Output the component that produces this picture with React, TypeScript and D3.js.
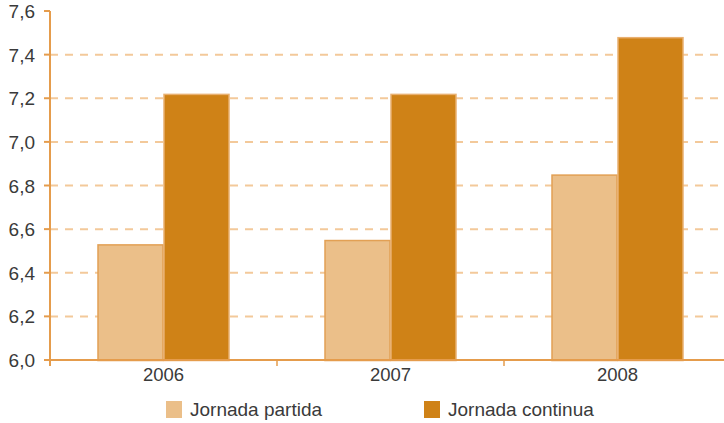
import React, { useEffect, useRef } from 'react';
import * as d3 from 'd3';

const years = ['2006', '2007', '2008'];
const series = ['Jornada partida', 'Jornada continua'];
const partida = [6.53, 6.55, 6.85];
const continua = [7.22, 7.22, 7.48];
const yTicks = [6.0, 6.2, 6.4, 6.6, 6.8, 7.0, 7.2, 7.4, 7.6];

const fills = ['#EBBF89', '#CF8217'];
const strokes = ['#E2A054', '#E9B070'];
const axisColor = '#E59C4C';

const App: React.FC = () => {
  const svgRef = useRef<SVGSVGElement | null>(null);

  useEffect(() => {
    if (!svgRef.current) return;
    const width = 724;
    const height = 423;
    const left = 50;

    d3.select(svgRef.current).selectAll('*').remove();
    const svg = d3.select(svgRef.current)
      .attr('width', width)
      .attr('height', height)
      .style('font-family', '"Liberation Sans", Arial, sans-serif');

    const y = d3.scaleLinear().domain([6.0, 7.6]).range([360, 11]);
    const x0 = d3.scaleBand().domain(years).range([left, 731]);
    const half = 66;
    const x1 = d3.scaleBand().domain(series)
      .range([x0.bandwidth() / 2 - half, x0.bandwidth() / 2 + half]);

    // grid
    svg.append('g')
      .selectAll('line')
      .data(yTicks.slice(1, -1))
      .enter()
      .append('line')
      .attr('x1', left)
      .attr('x2', width)
      .attr('y1', d => y(d))
      .attr('y2', d => y(d))
      .attr('stroke', '#F3C99A')
      .attr('stroke-width', 2)
      .attr('stroke-dasharray', '8,7');

    // bars
    const data = years.map((yr, i) => ({ yr, vals: [partida[i], continua[i]] }));
    const groups = svg.selectAll('.grp')
      .data(data)
      .enter()
      .append('g')
      .attr('transform', d => `translate(${x0(d.yr)},0)`);

    groups.selectAll('rect')
      .data(d => d.vals.map((v, k) => ({ k, v })))
      .enter()
      .append('rect')
      .attr('x', d => (x1(series[d.k]) as number) + 0.5)
      .attr('width', x1.bandwidth() - 1)
      .attr('y', d => y(d.v) + 0.5)
      .attr('height', d => y(6.0) - y(d.v))
      .attr('fill', d => fills[d.k])
      .attr('stroke', d => strokes[d.k])
      .attr('stroke-width', 1.5);

    // y axis
    svg.append('line')
      .attr('x1', left).attr('x2', left)
      .attr('y1', y(7.6)).attr('y2', y(6.0) + 6)
      .attr('stroke', axisColor).attr('stroke-width', 2);

    svg.append('g')
      .selectAll('line')
      .data(yTicks)
      .enter()
      .append('line')
      .attr('x1', left - 6).attr('x2', left)
      .attr('y1', d => y(d)).attr('y2', d => y(d))
      .attr('stroke', axisColor).attr('stroke-width', 2);

    svg.append('g')
      .selectAll('text')
      .data(yTicks)
      .enter()
      .append('text')
      .attr('x', 35)
      .attr('y', d => y(d) + 7)
      .attr('text-anchor', 'end')
      .attr('font-size', 19)
      .attr('fill', '#3a3a3a')
      .text(d => d3.format('.1f')(d).replace('.', ','));

    // x axis
    svg.append('line')
      .attr('x1', left).attr('x2', width)
      .attr('y1', y(6.0)).attr('y2', y(6.0))
      .attr('stroke', axisColor).attr('stroke-width', 2);

    svg.append('g')
      .selectAll('line')
      .data(years.slice(1))
      .enter()
      .append('line')
      .attr('x1', d => x0(d) as number)
      .attr('x2', d => x0(d) as number)
      .attr('y1', y(6.0)).attr('y2', y(6.0) + 6)
      .attr('stroke', axisColor).attr('stroke-width', 1.5);

    svg.append('g')
      .selectAll('text')
      .data(years)
      .enter()
      .append('text')
      .attr('x', d => (x0(d) as number) + x0.bandwidth() / 2)
      .attr('y', 381)
      .attr('text-anchor', 'middle')
      .attr('font-size', 18.5)
      .attr('fill', '#3a3a3a')
      .text(d => d);

    // legend
    const legendX = [166, 424];
    const legend = svg.selectAll('.legend')
      .data(series)
      .enter()
      .append('g')
      .attr('transform', (d, i) => `translate(${legendX[i]},401)`);

    legend.append('rect')
      .attr('width', 16)
      .attr('height', 17)
      .attr('fill', (d, i) => fills[i]);

    legend.append('text')
      .attr('x', 24)
      .attr('y', 15)
      .attr('font-size', 19)
      .attr('fill', '#3a3a3a')
      .text(d => d);
  }, []);

  return (
    <div style={{ position: 'absolute', left: 0, top: 0 }}>
      <svg ref={svgRef}></svg>
    </div>
  );
};

export default App;
